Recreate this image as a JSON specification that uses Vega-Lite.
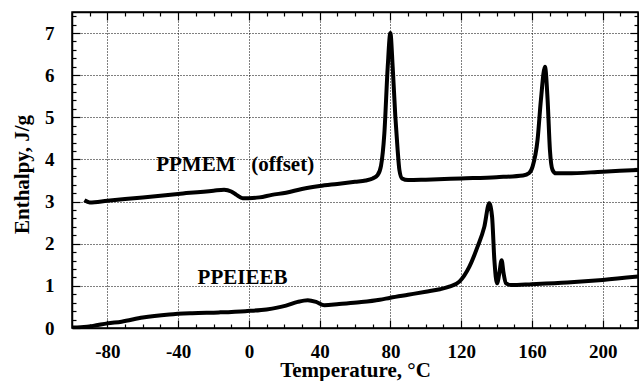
{
  "$schema": "https://vega.github.io/schema/vega-lite/v6.json",
  "width": 566,
  "height": 316,
  "autosize": {"type": "none"},
  "padding": {"left": 72, "top": 12, "right": 1, "bottom": 53},
  "background": "white",
  "config": {
    "view": {"stroke": "black", "strokeWidth": 1.5},
    "font": "Liberation Serif",
    "axis": {
      "labelFont": "Liberation Serif",
      "labelFontWeight": "bold",
      "labelFontSize": 19,
      "labelColor": "black",
      "titleFont": "Liberation Serif",
      "titleFontWeight": "bold",
      "titleFontSize": 21,
      "titleColor": "black",
      "domainColor": "black",
      "domainWidth": 1.5,
      "tickColor": "black",
      "tickWidth": 1.2,
      "gridColor": "black",
      "gridDash": [1, 2],
      "gridWidth": 1
    }
  },
  "datasets": {
    "curves": [
      {"series": "PPMEM", "t": -93, "h": 3.03},
      {"series": "PPMEM", "t": -90, "h": 2.98},
      {"series": "PPMEM", "t": -80, "h": 3.02},
      {"series": "PPMEM", "t": -60, "h": 3.10},
      {"series": "PPMEM", "t": -40, "h": 3.18},
      {"series": "PPMEM", "t": -20, "h": 3.26},
      {"series": "PPMEM", "t": -14, "h": 3.28},
      {"series": "PPMEM", "t": -10, "h": 3.24},
      {"series": "PPMEM", "t": -7, "h": 3.16},
      {"series": "PPMEM", "t": -3.5, "h": 3.08},
      {"series": "PPMEM", "t": 0, "h": 3.08},
      {"series": "PPMEM", "t": 6, "h": 3.10},
      {"series": "PPMEM", "t": 13, "h": 3.16},
      {"series": "PPMEM", "t": 21, "h": 3.21},
      {"series": "PPMEM", "t": 30, "h": 3.30},
      {"series": "PPMEM", "t": 40, "h": 3.37},
      {"series": "PPMEM", "t": 50, "h": 3.42},
      {"series": "PPMEM", "t": 60, "h": 3.47},
      {"series": "PPMEM", "t": 66, "h": 3.50},
      {"series": "PPMEM", "t": 70, "h": 3.55},
      {"series": "PPMEM", "t": 72.8, "h": 3.63},
      {"series": "PPMEM", "t": 74.7, "h": 3.85},
      {"series": "PPMEM", "t": 76.6, "h": 4.62},
      {"series": "PPMEM", "t": 78.5, "h": 6.2},
      {"series": "PPMEM", "t": 80, "h": 7.0},
      {"series": "PPMEM", "t": 81.3, "h": 6.2},
      {"series": "PPMEM", "t": 82.8, "h": 5.02},
      {"series": "PPMEM", "t": 84.1, "h": 4.23},
      {"series": "PPMEM", "t": 85.1, "h": 3.75},
      {"series": "PPMEM", "t": 86.6, "h": 3.55},
      {"series": "PPMEM", "t": 90, "h": 3.51},
      {"series": "PPMEM", "t": 100, "h": 3.52},
      {"series": "PPMEM", "t": 120, "h": 3.55},
      {"series": "PPMEM", "t": 140, "h": 3.58},
      {"series": "PPMEM", "t": 155, "h": 3.62},
      {"series": "PPMEM", "t": 158.5, "h": 3.68},
      {"series": "PPMEM", "t": 160.4, "h": 3.83},
      {"series": "PPMEM", "t": 163.2, "h": 4.46},
      {"series": "PPMEM", "t": 165.1, "h": 5.41},
      {"series": "PPMEM", "t": 167.4, "h": 6.2},
      {"series": "PPMEM", "t": 168.9, "h": 5.41},
      {"series": "PPMEM", "t": 170.2, "h": 4.23},
      {"series": "PPMEM", "t": 171.7, "h": 3.75},
      {"series": "PPMEM", "t": 173.6, "h": 3.67},
      {"series": "PPMEM", "t": 180, "h": 3.67},
      {"series": "PPMEM", "t": 200, "h": 3.71},
      {"series": "PPMEM", "t": 220, "h": 3.75},
      {"series": "PPEIEEB", "t": -101, "h": 0.01},
      {"series": "PPEIEEB", "t": -95, "h": 0.02},
      {"series": "PPEIEEB", "t": -88, "h": 0.05},
      {"series": "PPEIEEB", "t": -80, "h": 0.11},
      {"series": "PPEIEEB", "t": -72, "h": 0.15},
      {"series": "PPEIEEB", "t": -60, "h": 0.25},
      {"series": "PPEIEEB", "t": -45, "h": 0.32},
      {"series": "PPEIEEB", "t": -32, "h": 0.35},
      {"series": "PPEIEEB", "t": -17, "h": 0.37},
      {"series": "PPEIEEB", "t": -2, "h": 0.40},
      {"series": "PPEIEEB", "t": 10, "h": 0.44},
      {"series": "PPEIEEB", "t": 21, "h": 0.53},
      {"series": "PPEIEEB", "t": 27.6, "h": 0.62},
      {"series": "PPEIEEB", "t": 33.3, "h": 0.66},
      {"series": "PPEIEEB", "t": 38, "h": 0.62},
      {"series": "PPEIEEB", "t": 42.7, "h": 0.54},
      {"series": "PPEIEEB", "t": 51, "h": 0.57},
      {"series": "PPEIEEB", "t": 62.5, "h": 0.61},
      {"series": "PPEIEEB", "t": 74, "h": 0.67},
      {"series": "PPEIEEB", "t": 80, "h": 0.72},
      {"series": "PPEIEEB", "t": 90, "h": 0.79},
      {"series": "PPEIEEB", "t": 100, "h": 0.86},
      {"series": "PPEIEEB", "t": 108, "h": 0.92},
      {"series": "PPEIEEB", "t": 113.3, "h": 0.98},
      {"series": "PPEIEEB", "t": 119, "h": 1.10},
      {"series": "PPEIEEB", "t": 124.6, "h": 1.45},
      {"series": "PPEIEEB", "t": 129.3, "h": 1.93},
      {"series": "PPEIEEB", "t": 133.1, "h": 2.40},
      {"series": "PPEIEEB", "t": 135.9, "h": 2.96},
      {"series": "PPEIEEB", "t": 137.5, "h": 2.64},
      {"series": "PPEIEEB", "t": 138.8, "h": 1.61},
      {"series": "PPEIEEB", "t": 140.3, "h": 1.06},
      {"series": "PPEIEEB", "t": 141.6, "h": 1.30},
      {"series": "PPEIEEB", "t": 142.9, "h": 1.61},
      {"series": "PPEIEEB", "t": 144, "h": 1.30},
      {"series": "PPEIEEB", "t": 145.4, "h": 1.06},
      {"series": "PPEIEEB", "t": 148.2, "h": 1.02},
      {"series": "PPEIEEB", "t": 160, "h": 1.04},
      {"series": "PPEIEEB", "t": 180, "h": 1.08},
      {"series": "PPEIEEB", "t": 200, "h": 1.14},
      {"series": "PPEIEEB", "t": 220, "h": 1.22}
    ],
    "labels": [
      {"text": "PPMEM", "t": -52.4, "h": 3.87},
      {"text": "(offset)", "t": 1.3, "h": 3.87},
      {"text": "PPEIEEB", "t": -29, "h": 1.18}
    ]
  },
  "resolve": {"axis": {"x": "independent", "y": "independent"}},
  "layer": [
    {
      "data": {"name": "curves"},
      "mark": {"type": "line", "color": "black", "strokeWidth": 4, "interpolate": "monotone", "clip": true},
      "encoding": {
        "x": {
          "field": "t", "type": "quantitative",
          "scale": {"domain": [-100, 220], "nice": false, "zero": false},
          "axis": {
            "orient": "bottom",
            "title": "Temperature,  °C",
            "values": [-90,-80,-70,-60,-50,-40,-30,-20,-10,0,10,20,30,40,50,60,70,80,90,100,110,120,130,140,150,160,170,180,190,200,210],
            "labelExpr": "datum.value % 40 === 0 ? '' + datum.value : ''",
            "tickSize": {"condition": {"test": "datum.value % 40 === 0", "value": -8}, "value": -4},
            "gridOpacity": {"condition": {"test": "datum.value % 40 === 0", "value": 1}, "value": 0},
            "labelPadding": 22,
            "labelFlush": false,
            "labelOverlap": false,
            "titleX": 283,
            "titleY": 48,
            "titleBaseline": "alphabetic",
            "titleAlign": "center"
          }
        },
        "y": {
          "field": "h", "type": "quantitative",
          "scale": {"domain": [0, 7.5], "nice": false},
          "axis": {
            "orient": "left",
            "title": "Enthalpy,  J/g",
            "values": [0,0.2,0.4,0.6,0.8,1,1.2,1.4,1.6,1.8,2,2.2,2.4,2.6,2.8,3,3.2,3.4,3.6,3.8,4,4.2,4.4,4.6,4.8,5,5.2,5.4,5.6,5.8,6,6.2,6.4,6.6,6.8,7,7.2,7.4],
            "labelExpr": "abs(datum.value - round(datum.value)) < 0.001 ? '' + round(datum.value) : ''",
            "tickSize": {"condition": {"test": "abs(datum.value - round(datum.value)) < 0.001", "value": -8}, "value": -4},
            "gridOpacity": {"condition": {"test": "abs(datum.value - round(datum.value)) < 0.001 && datum.value > 0", "value": 1}, "value": 0},
            "labelPadding": 26,
            "labelFlush": false,
            "labelOverlap": false,
            "titleX": -50,
            "titleY": 162,
            "titleAngle": -90,
            "titleBaseline": "middle",
            "titleAlign": "center"
          }
        },
        "detail": {"field": "series"}
      }
    },
    {
      "data": {"name": "labels"},
      "mark": {"type": "text", "font": "Liberation Serif", "fontWeight": "bold", "fontSize": 21, "color": "black", "align": "left", "baseline": "middle"},
      "encoding": {
        "x": {
          "field": "t", "type": "quantitative",
          "axis": {
            "orient": "top", "title": null, "labels": false, "grid": false,
            "values": [-90,-80,-70,-60,-50,-40,-30,-20,-10,0,10,20,30,40,50,60,70,80,90,100,110,120,130,140,150,160,170,180,190,200,210],
            "tickSize": {"condition": {"test": "datum.value % 40 === 0", "value": -8}, "value": -4}
          }
        },
        "y": {
          "field": "h", "type": "quantitative",
          "axis": {
            "orient": "right", "title": null, "labels": false, "grid": false,
            "values": [0.2,0.4,0.6,0.8,1,1.2,1.4,1.6,1.8,2,2.2,2.4,2.6,2.8,3,3.2,3.4,3.6,3.8,4,4.2,4.4,4.6,4.8,5,5.2,5.4,5.6,5.8,6,6.2,6.4,6.6,6.8,7,7.2,7.4],
            "tickSize": {"condition": {"test": "abs(datum.value - round(datum.value)) < 0.001", "value": -8}, "value": -4}
          }
        },
        "text": {"field": "text"}
      }
    }
  ]
}
